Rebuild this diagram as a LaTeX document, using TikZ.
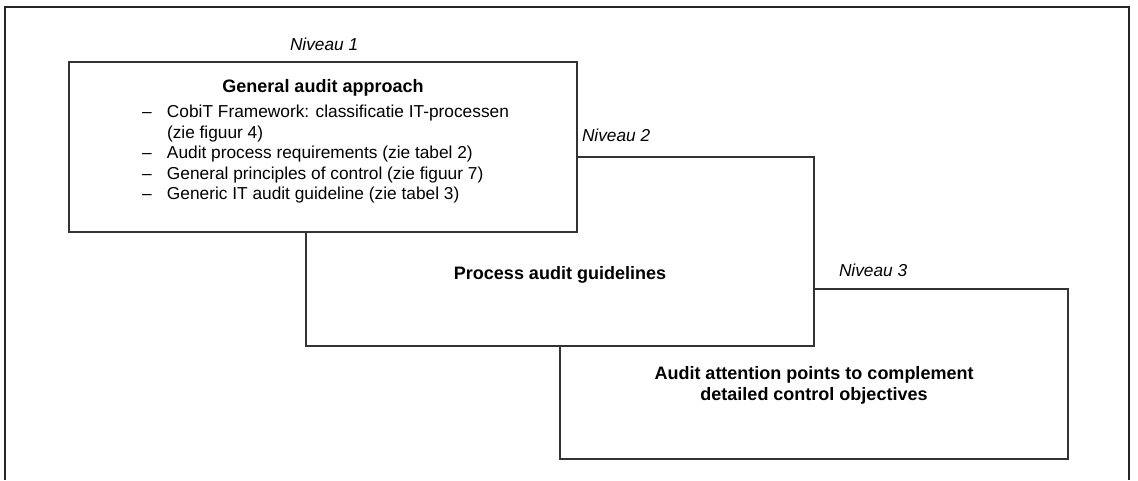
\documentclass[tikz,border=0pt]{standalone}
\usepackage{fontspec}
\setmainfont{Liberation Sans}
\newcommand{\bodysize}{\fontsize{17.3}{21}\selectfont}
\newcommand{\headsize}{\fontsize{18}{21}\selectfont}
\begin{document}
\begin{tikzpicture}[x=1pt,y=-1pt,
  every node/.style={inner sep=0pt, outer sep=0pt, font=\bodysize},
  levelbox/.style={draw=black!80, line width=1.2pt, fill=white, rectangle},
  level/.style={anchor=base west, font=\bodysize\itshape},
  title/.style={anchor=base, font=\headsize\bfseries, align=center},
  item/.style={anchor=base west},
  frame/.style={draw=black!85, line width=1.6pt}]
\useasboundingbox (0,0) rectangle (1138,480);
\fill[white] (0,0) rectangle (1138,480);

% outer frame, open at the bottom
\coordinate (fbl) at (5,480);
\coordinate (ftl) at (5,7);
\coordinate (ftr) at (1129,7);
\coordinate (fbr) at (1129,480);
\draw[frame] (fbl) -- (ftl) -- (ftr) -- (fbr);

% level boxes, back to front
\node[levelbox, minimum width=508pt, minimum height=170pt] (b3) at (814,374) {};
\node[levelbox, minimum width=508pt, minimum height=189pt] (b2) at (560,251.5) {};
\node[levelbox, minimum width=508pt, minimum height=170pt] (b1) at (323,147) {};

% level captions
\node[level] (n1) at (290,50) {Niveau 1};
\node[level] (n2) at (582,141) {Niveau 2};
\node[level] (n3) at (839,276) {Niveau 3};

% level 1 contents
\node[title] (t1) at (323,92) {General audit approach};
\node[item] (i1) at (142,117.5) {\makebox[25pt][l]{–}CobiT Framework: classificatie IT-processen};
\node[item] (i1b) at (167,138) {(zie figuur 4)};
\node[item] (i2) at (142,158.5) {\makebox[25pt][l]{–}Audit process requirements (zie tabel 2)};
\node[item] (i3) at (142,179) {\makebox[25pt][l]{–}General principles of control (zie figuur 7)};
\node[item] (i4) at (142,199.5) {\makebox[25pt][l]{–}Generic IT audit guideline (zie tabel 3)};

% level 2 and 3 contents
\node[title] (t2) at (560,279) {Process audit guidelines};
\node[title] (t3) at (814,400) {Audit attention points to complement\\detailed control objectives};
\end{tikzpicture}
\end{document}
